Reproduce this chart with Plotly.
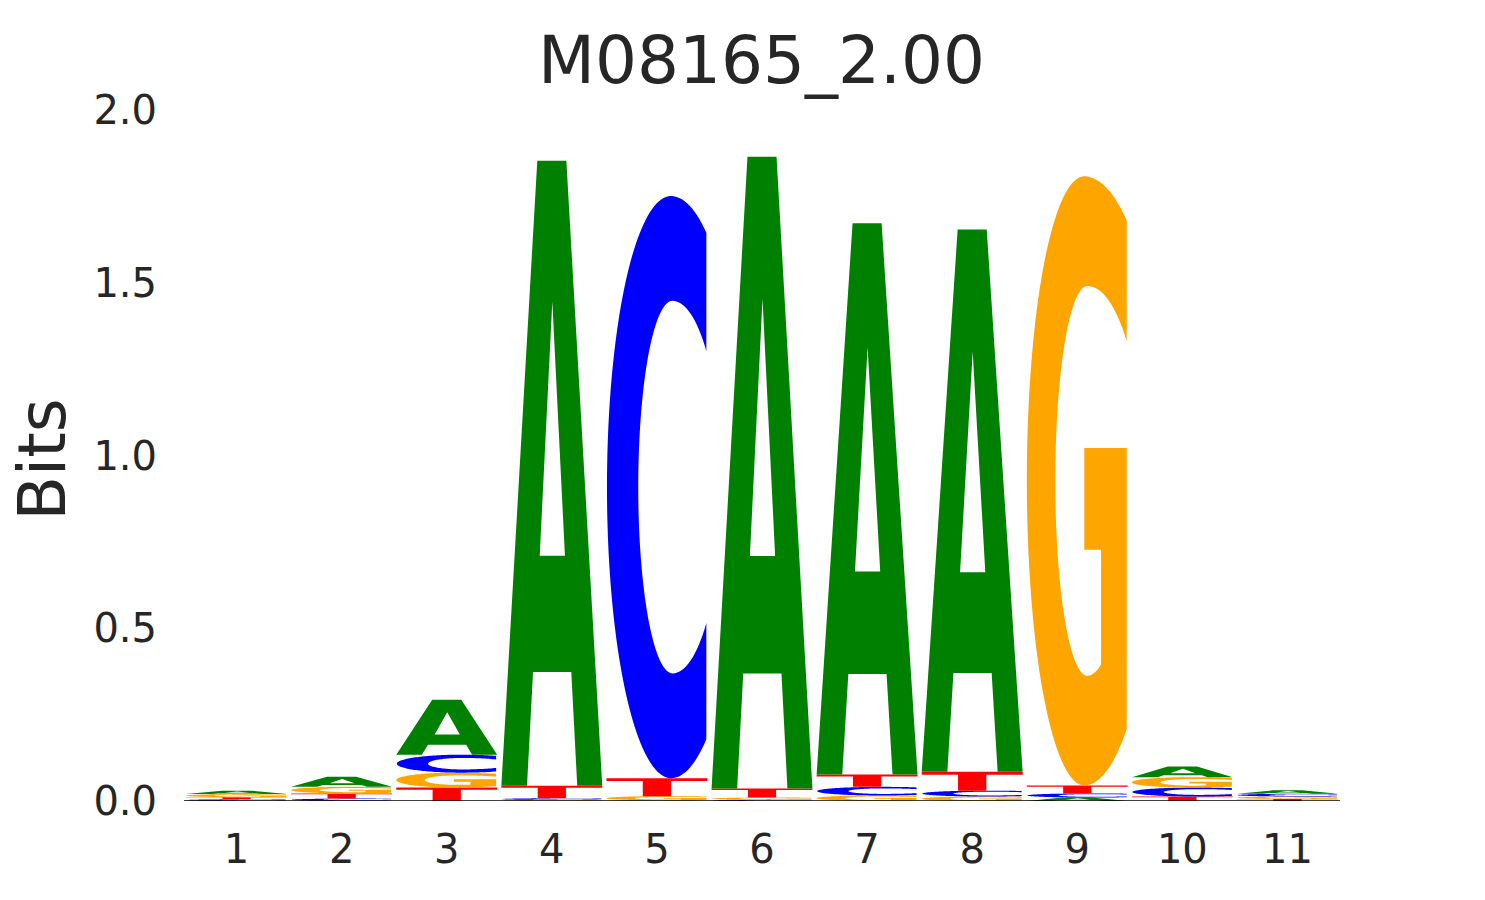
import numpy as np
import plotly.graph_objects as go

# ---- data (bits) ----
positions = [1, 2, 3, 4, 5, 6, 7, 8, 9, 10, 11]
A_bits = [0.010, 0.029, 0.159, 1.809, 0.002, 1.829, 1.595, 1.569, 0.010, 0.031, 0.010]
C_bits = [0.005, 0.007, 0.052, 0.005, 1.685, 0.004, 0.025, 0.017, 0.012, 0.026, 0.008]
G_bits = [0.009, 0.019, 0.043, 0.003, 0.012, 0.006, 0.016, 0.013, 1.763, 0.030, 0.007]
T_bits = [0.006, 0.015, 0.039, 0.036, 0.052, 0.026, 0.036, 0.055, 0.023, 0.013, 0.006]
y_ticks = [0.0, 0.5, 1.0, 1.5, 2.0]
title_text = "M08165_2.00"
y_label = "Bits"

colors = {"A": "#008000", "C": "#0000ff", "G": "#ffa500", "T": "#ff0000"}
LETTER_W = 0.96


def arc(cx, cy, rx_fn, ry_fn, t0, t1, n=60):
    pts = []
    for t in np.linspace(np.radians(t0), np.radians(t1), n):
        c, s = np.cos(t), np.sin(t)
        rx = rx_fn(c, s)
        ry = ry_fn(c, s)
        pts.append((cx + rx * c, cy + ry * s))
    return pts


def glyph_points(letter):
    if letter == "A":
        outer = [(0, 0), (0.254, 0), (0.314, 0.182), (0.693, 0.182), (0.752, 0),
                 (1, 0), (0.644, 1), (0.356, 1)]
        hole = [(0.38, 0.368), (0.505, 0.775), (0.63, 0.368)]
        return [outer, hole]
    if letter == "T":
        return [[(0, 1), (1, 1), (1, 0.84), (0.64, 0.84), (0.64, 0), (0.36, 0),
                 (0.36, 0.84), (0, 0.84)]]
    if letter == "C":
        R = 0.99
        o_rx = lambda c, s: (0.72 if s >= 0 else 0.70) if c > 0 else 0.635
        o_ry = lambda c, s: 0.5
        t_top = np.degrees(np.arccos((R - 0.64) / 0.72))
        t_bot = np.degrees(np.arccos((R - 0.64) / 0.70))
        pts = arc(0.64, 0.5, o_rx, o_ry, t_top, 360 - t_bot, 120)
        i_rx = lambda c, s: 0.49 if c > 0 else 0.34
        i_ry = lambda c, s: 0.32
        ti = np.degrees(np.arccos((R - 0.655) / 0.49))
        pts += arc(0.655, 0.5, i_rx, i_ry, 360 - ti, ti, 100)
        return [pts]
    if letter == "G":
        R = 0.99
        o_rx = lambda c, s: (0.81 if s >= 0 else 0.725) if c > 0 else 0.57
        o_ry = lambda c, s: 0.5
        t_top = np.degrees(np.arccos((R - 0.57) / 0.81))
        t_bot = np.degrees(np.arccos((R - 0.57) / 0.725))
        pts = arc(0.57, 0.5, o_rx, o_ry, t_top, 360 - t_bot, 120)
        pts += [(R, 0.554), (0.57, 0.554), (0.57, 0.387), (0.736, 0.387)]
        i_rx = lambda c, s: (0.559 if s >= 0 else 0.40) if c > 0 else 0.318
        i_ry = lambda c, s: 0.32
        tb = np.degrees(np.arccos((0.736 - 0.60) / 0.40))
        tt = np.degrees(np.arccos((R - 0.60) / 0.559))
        pts += arc(0.60, 0.5, i_rx, i_ry, -tb, -(360 - tt), 100)
        return [pts]
    return []


def glyph_path(letter, xc, y0, h):
    parts = []
    for contour in glyph_points(letter):
        seg = []
        for k, (u, v) in enumerate(contour):
            x = xc - LETTER_W / 2 + u * LETTER_W
            y = y0 + v * h
            seg.append(("M" if k == 0 else "L") + f"{x:.5f},{y:.6f}")
        parts.append(" ".join(seg) + " Z")
    return " ".join(parts)


fig = go.Figure()
# invisible trace to establish the axes
fig.add_trace(go.Scatter(x=positions, y=[0] * len(positions), mode="markers",
                         marker=dict(opacity=0), hoverinfo="skip", showlegend=False))

shapes = []
for i, p in enumerate(positions):
    vals = {"A": A_bits[i], "C": C_bits[i], "G": G_bits[i], "T": T_bits[i]}
    order = sorted(vals.items(), key=lambda kv: kv[1])
    base = 0.0
    for letter, h in order:
        shapes.append(dict(type="path", xref="x", yref="y",
                           path=glyph_path(letter, p, base, h),
                           fillcolor=colors[letter], line=dict(width=0),
                           layer="above"))
        base += h

shapes.append(dict(type="line", xref="x", yref="y", x0=0.5, x1=11.5, y0=0, y1=0,
                   line=dict(color="black", width=1.5), layer="above"))

TEXT = "#262626"
FONT = "DejaVu Sans"
L, T, W, H = 175.5, 101.5, 1156.1, 692.0
fig.update_layout(
    width=1485, height=900,
    margin=dict(l=L, r=1485 - L - W, t=T, b=900 - T - H),
    paper_bgcolor="white", plot_bgcolor="white",
    shapes=shapes,
    title=dict(text=title_text, x=(L + W / 2) / 1485, xanchor="center",
               y=1 - 52 / 900, yanchor="middle", yref="container",
               font=dict(family=FONT, size=66, color=TEXT)),
    xaxis=dict(range=[0.5, 11.5], tickvals=positions,
               ticktext=[str(p) for p in positions], showgrid=False,
               zeroline=False, showline=False, ticks="",
               tickfont=dict(family=FONT, size=40, color=TEXT),
               ticklabelstandoff=21),
    yaxis=dict(range=[0, 2.0], tickvals=y_ticks,
               ticktext=[f"{t:.1f}" for t in y_ticks], showgrid=False,
               zeroline=False, showline=False, ticks="",
               tickfont=dict(family=FONT, size=40, color=TEXT),
               ticklabelstandoff=26),
    annotations=[dict(text=y_label, xref="paper", yref="paper",
                      x=(34 - L) / W, y=(T + H - 452) / H,
                      xanchor="center", yanchor="middle", textangle=-90,
                      showarrow=False,
                      font=dict(family=FONT, size=65, color=TEXT))],
    showlegend=False,
)

fig.write_html("out.html")
